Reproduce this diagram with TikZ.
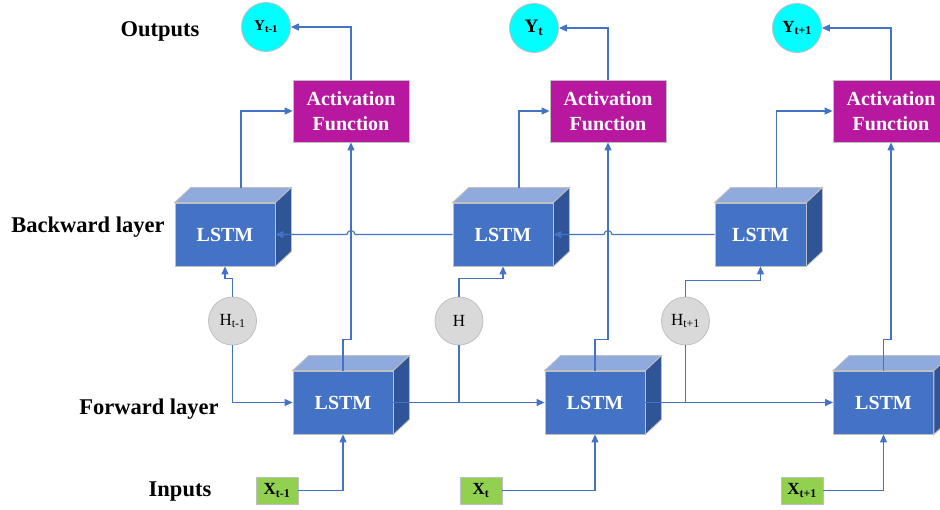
\documentclass[tikz,border=0pt]{standalone}
\usepackage{fontspec}
\setmainfont{Liberation Serif}
\usetikzlibrary{arrows.meta}
\definecolor{lstmblue}{HTML}{4472C4}
\definecolor{lstmtop}{HTML}{8FAADC}
\definecolor{lstmside}{HTML}{2F5597}
\definecolor{actmag}{HTML}{B8179F}
\definecolor{outcyan}{HTML}{00FFFF}
\definecolor{ingreen}{HTML}{92D050}
\definecolor{hidgray}{HTML}{D9D9D9}
\definecolor{edgegray}{HTML}{BFBFBF}
\begin{document}
\begin{tikzpicture}[x=1pt,y=-1pt,
    lbl/.style={font=\fontsize{22.5}{27}\selectfont\bfseries},
    lstm/.style={draw=edgegray,line width=0.8pt,fill=lstmblue,minimum width=100pt,
      minimum height=63pt,inner sep=0pt,text=white,font=\fontsize{20}{24}\selectfont\bfseries},
    topface/.style={draw=edgegray,line width=0.8pt,fill=lstmtop},
    sideface/.style={draw=edgegray,line width=0.8pt,fill=lstmside},
    act/.style={draw=edgegray,line width=0.8pt,fill=actmag,minimum width=116pt,minimum height=62pt,
      inner sep=0pt,text=white,align=center,font=\fontsize{20}{25}\selectfont\bfseries},
    outc/.style={circle,draw=edgegray,line width=0.8pt,fill=outcyan,minimum size=49pt,inner sep=0pt,
      font=\fontsize{17}{20}\selectfont\bfseries},
    hid/.style={circle,draw=edgegray,line width=0.8pt,fill=hidgray,minimum size=48pt,inner sep=0pt,
      font=\fontsize{17}{20}\selectfont},
    inp/.style={draw=edgegray,line width=0.8pt,fill=ingreen,minimum width=42pt,minimum height=27pt,
      inner sep=0pt,font=\fontsize{17}{20}\selectfont\bfseries},
    link/.style={draw=lstmblue,line width=1.1pt},
    flow/.style={-{Triangle[length=8pt,width=7pt]}}]
  \useasboundingbox (0,0) rectangle (940,509);
  \clip (0,0) rectangle (940,509);
  % row labels
  \node[lbl] (outlbl) at (160,31) {Outputs};
  \node[lbl] (bwlbl) at (88,227) {Backward layer};
  \node[lbl] (fwlbl) at (149,409) {Forward layer};
  \node[lbl] (inlbl) at (180,492) {Inputs};
  % outputs
  \node[outc,font=\fontsize{15}{18}\selectfont\bfseries] (y1) at (266,27) {Y\textsubscript{t-1}};
  \node[outc,font=\fontsize{19}{22}\selectfont\bfseries] (y2) at (534,28) {Y\textsubscript{t}};
  \node[outc] (y3) at (797,28) {Y\textsubscript{t+1}};
  \node[act] (af1) at (351,111) {Activation\\Function};
  \node[act] (af2) at (608,111) {Activation\\Function};
  \node[act] (af3) at (891,111) {Activation\\Function};
  % lstm cells
  \node[lstm] (bl1) at (225,234.5) {LSTM};
  \node[lstm] (bl2) at (503,234.5) {LSTM};
  \node[lstm,minimum width=91pt] (bl3) at (760.5,234.5) {LSTM};
  \node[lstm] (fl1) at (343,402.5) {LSTM};
  \node[lstm] (fl2) at (595,402.5) {LSTM};
  \node[lstm] (fl3) at (883.5,402.5) {LSTM};
  \foreach \n in {bl1,bl2,bl3,fl1,fl2,fl3}{
    \filldraw[topface] (\n.north west) -- ++(16pt,15pt) -- ([shift={(16pt,15pt)}]\n.north east)
      -- (\n.north east) -- cycle;
    \filldraw[sideface] (\n.north east) -- ([shift={(16pt,15pt)}]\n.north east)
      -- ([shift={(16pt,15pt)}]\n.south east) -- (\n.south east) -- cycle;
  }
  % hidden states
  \node[hid] (h1) at (232.5,321) {H\textsubscript{t-1}};
  \node[hid] (h2) at (459,321) {H};
  \node[hid] (h3) at (685.5,321) {H\textsubscript{t+1}};
  % inputs
  \node[inp] (x1) at (277,490.5) {X\textsubscript{t-1}};
  \node[inp] (x2) at (481,490.5) {X\textsubscript{t}};
  \node[inp] (x3) at (802,490.5) {X\textsubscript{t+1}};
  \coordinate (hop1) at (af1.south |- bl1.east);
  \coordinate (hop2) at (af2.south |- bl2.east);
  \begin{scope}[link]
    \draw[flow] (x1.east) -| (fl1.south);
    \draw[flow] (x2.east) -| (fl2.south);
    \draw[flow] (x3.east) -| (fl3.south);
    \draw[flow] (fl1.north) -- ++(0,-31) -| (af1.south);
    \draw[flow] (fl2.north) -- ++(0,-31) -| (af2.south);
    \draw[flow] (fl3.north) -- ++(0,-31) -| (af3.south);
    \draw[flow] ([shift={(16pt,15pt)}]bl1.north) |- (af1.west);
    \draw[flow] ([shift={(16pt,15pt)}]bl2.north) |- (af2.west);
    \draw[flow] ([shift={(16pt,15pt)}]bl3.north) |- (af3.west);
    \draw[flow] (af1.north) |- (y1.east);
    \draw[flow] (af2.north) |- (y2.east);
    \draw[flow] (af3.north) |- (y3.east);
    \draw[flow] (bl2.west) -- ([xshift=4pt]hop1) arc[start angle=0,end angle=180,radius=4pt] -- (bl1.east);
    \draw[flow] (bl3.west) -- ([xshift=4pt]hop2) arc[start angle=0,end angle=180,radius=4pt] -- (bl2.east);
    \draw[flow] (h1.north) -- ++(0,-18) -| (bl1.south);
    \draw[flow] (h2.north) -- ++(0,-18) -| (bl2.south);
    \draw[flow] (h3.north) -- ++(0,-16) -| (bl3.south);
    \draw[flow] (h1.south) |- (fl1.west);
    \draw[flow] (fl1.east) -- (fl2.west);
    \draw[flow] (fl2.east) -- (fl3.west);
    \draw (h2.south) -- (h2.south |- fl2.west);
    \draw (h3.south) -- (h3.south |- fl3.west);
  \end{scope}
\end{tikzpicture}
\end{document}
